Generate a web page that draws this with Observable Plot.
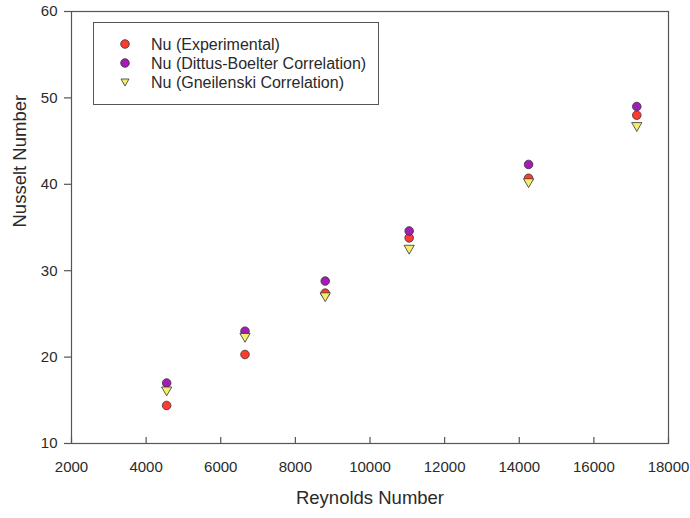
<!DOCTYPE html>
<html>
<head>
<meta charset="utf-8">
<script src="https://cdn.jsdelivr.net/npm/d3@7"></script>
<script src="https://cdn.jsdelivr.net/npm/@observablehq/plot@0.6"></script>
<style>
  html, body { margin: 0; padding: 0; background: #fff; }
  #wrap { position: relative; width: 690px; height: 518px; font-family: "Liberation Sans", Arial, sans-serif; }
  #legend { position: absolute; left: 93px; top: 22px; width: 286px; height: 83px; border: 1px solid #555; box-sizing: border-box; background: #fff; font-size: 16px; color: #2a2a2a; }
  .row { position: absolute; left: 0; height: 19px; line-height: 19px; white-space: nowrap; }
  .row svg { position: absolute; left: 25px; top: 3px; }
  .row span { position: absolute; left: 57px; }
</style>
</head>
<body>
<div id="wrap"></div>
<script>
const reynolds = [4550, 6650, 8800, 11050, 14250, 17150];
const nuExperimental = [14.4, 20.3, 27.4, 33.8, 40.7, 48.0];
const nuDittusBoelter = [17.0, 23.0, 28.8, 34.6, 42.3, 49.0];
const nuGnielinski = [16.2, 22.4, 27.1, 32.6, 40.3, 46.8];
const seriesNames = ["Nu (Experimental)", "Nu (Dittus-Boelter Correlation)", "Nu (Gneilenski Correlation)"];
const xTicks = [2000, 4000, 6000, 8000, 10000, 12000, 14000, 16000, 18000];
const yTicks = [10, 20, 30, 40, 50, 60];

const red = "#ff3b30", purple = "#a31cb8", yellow = "#f2ee6e", edge = "#3a3030";

const mk = (arr) => reynolds.map((x, i) => ({x, y: arr[i]}));

const plot = Plot.plot({
  width: 690,
  height: 518,
  marginLeft: 71,
  marginRight: 22,
  marginTop: 11,
  marginBottom: 75,
  style: {fontFamily: "Liberation Sans, Arial, sans-serif", color: "#2a2a2a", background: "#fff"},
  x: {domain: [2000, 18000]},
  y: {domain: [10, 60]},
  marks: [
    Plot.frame({stroke: "#555", strokeWidth: 1.2}),
    Plot.axisX(xTicks, {tickSize: 0, tickPadding: 18, fontSize: 15, fill: "#2a2a2a", tickFormat: d => String(d), label: null}),
    Plot.axisX(xTicks, {tickSize: 6, dy: -6, stroke: "#555", strokeWidth: 1.2, tickFormat: () => "", label: null}),
    Plot.axisY(yTicks, {tickSize: 7, tickPadding: 7, fontSize: 15, fill: "#2a2a2a", stroke: "#555", strokeWidth: 1.2, label: null}),
    Plot.text(["Reynolds Number"], {frameAnchor: "bottom", dy: 60, fontSize: 18.5, fill: "#2a2a2a"}),
    Plot.text(["Nusselt Number"], {frameAnchor: "left", dx: -51, rotate: -90, fontSize: 18.5, fill: "#2a2a2a"}),
    Plot.dot(mk(nuExperimental), {x: "x", y: "y", r: 4.3, fill: red, stroke: edge, strokeWidth: 0.8}),
    Plot.dot(mk(nuDittusBoelter), {x: "x", y: "y", r: 4.3, fill: purple, stroke: edge, strokeWidth: 0.8}),
    Plot.dot(mk(nuGnielinski), {x: "x", y: "y", r: 3.8, symbol: "triangle", rotate: 180, fill: yellow, stroke: edge, strokeWidth: 0.8})
  ]
});

const wrap = document.getElementById("wrap");
wrap.appendChild(plot);

const legend = document.createElement("div");
legend.id = "legend";
const shapes = [
  `<circle cx="6" cy="6" r="4.3" fill="${red}" stroke="${edge}" stroke-width="0.8"/>`,
  `<circle cx="6" cy="6" r="4.3" fill="${purple}" stroke="${edge}" stroke-width="0.8"/>`,
  `<path d="M2,3 L10,3 L6,10 Z" fill="${yellow}" stroke="${edge}" stroke-width="0.8"/>`
];
seriesNames.forEach((name, i) => {
  const row = document.createElement("div");
  row.className = "row";
  row.style.top = (12 + i * 19) + "px";
  row.style.width = "100%";
  row.innerHTML = `<svg width="12" height="12">${shapes[i]}</svg><span>${name}</span>`;
  legend.appendChild(row);
});
wrap.appendChild(legend);
</script>
</body>
</html>
